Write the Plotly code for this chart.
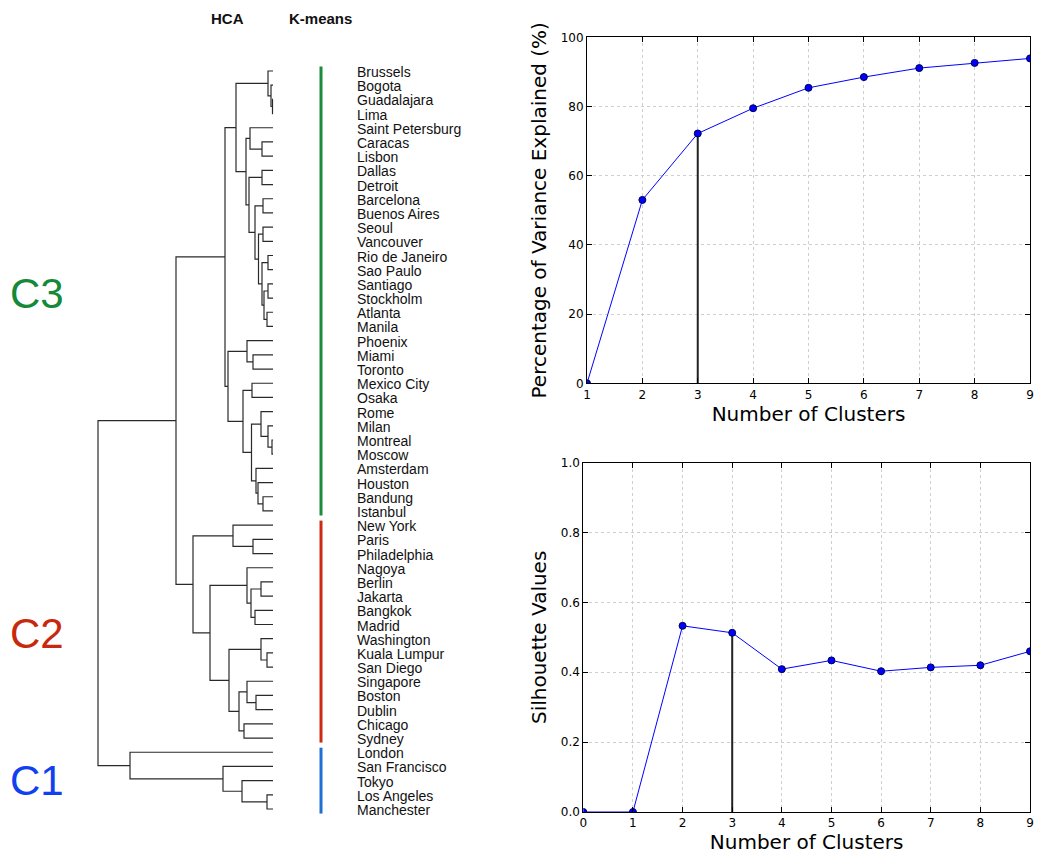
import plotly.graph_objects as go

# ---------------- data ----------------
cities = [
    "Brussels", "Bogota", "Guadalajara", "Lima", "Saint Petersburg", "Caracas",
    "Lisbon", "Dallas", "Detroit", "Barcelona", "Buenos Aires", "Seoul",
    "Vancouver", "Rio de Janeiro", "Sao Paulo", "Santiago", "Stockholm",
    "Atlanta", "Manila", "Phoenix", "Miami", "Toronto", "Mexico City", "Osaka",
    "Rome", "Milan", "Montreal", "Moscow", "Amsterdam", "Houston", "Bandung",
    "Istanbul", "New York", "Paris", "Philadelphia", "Nagoya", "Berlin",
    "Jakarta", "Bangkok", "Madrid", "Washington", "Kuala Lumpur", "San Diego",
    "Singapore", "Boston", "Dublin", "Chicago", "Sydney", "London",
    "San Francisco", "Tokyo", "Los Angeles", "Manchester",
]

# K-means cluster of each city (same order as cities)
kmeans_cluster = [
    "C3", "C3", "C3", "C3", "C3", "C3", "C3", "C3", "C3", "C3", "C3", "C3",
    "C3", "C3", "C3", "C3", "C3", "C3", "C3", "C3", "C3", "C3", "C3", "C3",
    "C3", "C3", "C3", "C3", "C3", "C3", "C3", "C3",
    "C2", "C2", "C2", "C2", "C2", "C2", "C2", "C2", "C2", "C2", "C2", "C2",
    "C2", "C2", "C2", "C2",
    "C1", "C1", "C1", "C1", "C1",
]
cluster_names = ["C3", "C2", "C1"]

# HCA merges: (node id, left child, right child, linkage distance)
merges = [
    ("a1", "Guadalajara", "Lima", 0.5),
    ("a2", "Bogota", "a1", 2),
    ("a3", "Brussels", "a2", 5),
    ("a4", "Caracas", "Lisbon", 11),
    ("a5", "Saint Petersburg", "a4", 23),
    ("a6", "Dallas", "Detroit", 11),
    ("a7", "Barcelona", "Buenos Aires", 10),
    ("a8", "Seoul", "Vancouver", 10),
    ("a9", "Rio de Janeiro", "Sao Paulo", 5),
    ("a10", "Santiago", "Stockholm", 5),
    ("a11", "Atlanta", "Manila", 6),
    ("a12", "a10", "a11", 9),
    ("a13", "a9", "a12", 11),
    ("a14", "a8", "a13", 14.5),
    ("a15", "a7", "a14", 18),
    ("a16", "a6", "a15", 24),
    ("a17", "a5", "a16", 27),
    ("a18", "a3", "a17", 37),
    ("b1", "Miami", "Toronto", 20),
    ("b2", "Phoenix", "b1", 26),
    ("b3", "Mexico City", "Osaka", 21),
    ("b4", "Montreal", "Moscow", 1),
    ("b5", "Milan", "b4", 5),
    ("b6", "Rome", "b5", 12),
    ("b7", "Bandung", "Istanbul", 10),
    ("b8", "Houston", "b7", 15),
    ("b9", "Amsterdam", "b8", 17),
    ("b10", "b6", "b9", 21.5),
    ("b11", "b3", "b10", 30),
    ("b12", "b2", "b11", 45),
    ("c3", "a18", "b12", 48),
    ("d1", "Paris", "Philadelphia", 20),
    ("d2", "New York", "d1", 40),
    ("d3", "Berlin", "Jakarta", 12),
    ("d4", "Bangkok", "Madrid", 18),
    ("d5", "d3", "d4", 22),
    ("d6", "Nagoya", "d5", 26),
    ("d7", "Kuala Lumpur", "San Diego", 6),
    ("d8", "Washington", "d7", 12),
    ("d9", "Boston", "Dublin", 17),
    ("d10", "Singapore", "d9", 26),
    ("d11", "Chicago", "Sydney", 29),
    ("d12", "d10", "d11", 34),
    ("d13", "d8", "d12", 44),
    ("d14", "d6", "d13", 63),
    ("c2", "d2", "d14", 80),
    ("c23", "c3", "c2", 97),
    ("e1", "Los Angeles", "Manchester", 6),
    ("e2", "Tokyo", "e1", 31),
    ("e3", "San Francisco", "e2", 50),
    ("c1", "London", "e3", 143),
    ("root", "c23", "c1", 175),
]

# elbow / silhouette curves
var_k = [1, 2, 3, 4, 5, 6, 7, 8, 9]
var_explained = [0.0, 53.0, 72.2, 79.5, 85.4, 88.5, 91.1, 92.6, 93.9]
sil_k = [0, 1, 2, 3, 4, 5, 6, 7, 8, 9]
sil_values = [0.0, 0.0, 0.533, 0.513, 0.409, 0.434, 0.403, 0.414, 0.420, 0.460]
chosen_k = 3

# ---------------- styling ----------------
W, H = 1038, 856
cluster_bar_color = {"C3": "#1a8c3c", "C2": "#cc2a14", "C1": "#1f6fd4"}
cluster_text_color = {"C3": "#14893a", "C2": "#c8280e", "C1": "#1040f0"}
cluster_text_y = {"C3": 293, "C2": 633, "C1": 780}


def fx(p):
    return p / W


def fy(p):
    return 1 - p / H


# ---------------- dendrogram geometry ----------------
pos = {c: (0.0, float(i)) for i, c in enumerate(cities)}  # name -> (height, y)
dx, dy = [], []
for nid, left, right, h in merges:
    hl, yl = pos[left]
    hr, yr = pos[right]
    dx += [hl, h, h, hr, None]
    dy += [yl, yl, yr, yr, None]
    pos[nid] = (h, (yl + yr) / 2)

fig = go.Figure()
fig.add_trace(go.Scatter(x=dx, y=dy, mode="lines",
                         line=dict(color="#2a2a2a", width=1.2),
                         hoverinfo="skip", showlegend=False,
                         xaxis="x", yaxis="y"))

# ---------------- elbow plot ----------------
fig.add_trace(go.Scatter(x=[chosen_k, chosen_k],
                         y=[0, var_explained[var_k.index(chosen_k)]],
                         mode="lines", line=dict(color="#222222", width=2),
                         showlegend=False, xaxis="x2", yaxis="y2"))
fig.add_trace(go.Scatter(x=var_k, y=var_explained, mode="lines+markers",
                         line=dict(color="#0000ff", width=1),
                         marker=dict(color="#0000ff", size=7,
                                     line=dict(color="#000050", width=1)),
                         showlegend=False, xaxis="x2", yaxis="y2"))

# ---------------- silhouette plot ----------------
fig.add_trace(go.Scatter(x=[chosen_k, chosen_k],
                         y=[0, sil_values[sil_k.index(chosen_k)]],
                         mode="lines", line=dict(color="#222222", width=2),
                         showlegend=False, xaxis="x3", yaxis="y3"))
fig.add_trace(go.Scatter(x=sil_k, y=sil_values, mode="lines+markers",
                         line=dict(color="#0000ff", width=1),
                         marker=dict(color="#0000ff", size=7,
                                     line=dict(color="#000050", width=1)),
                         showlegend=False, xaxis="x3", yaxis="y3"))

# ---------------- annotations ----------------
annotations = []
for i, c in enumerate(cities):
    annotations.append(dict(x=fx(355), xref="paper", y=i, yref="y",
                            text=c, showarrow=False, xanchor="left",
                            yanchor="middle", yshift=-1,
                            font=dict(family="Liberation Sans, Arial", size=14,
                                      color="#111111")))
annotations.append(dict(x=fx(227), y=fy(18.5), xref="paper", yref="paper",
                        text="<b>HCA</b>", showarrow=False,
                        xanchor="center", yanchor="middle",
                        font=dict(family="Liberation Sans, Arial", size=15,
                                  color="#111111")))
annotations.append(dict(x=fx(320.5), y=fy(18.5), xref="paper", yref="paper",
                        text="<b>K-means</b>", showarrow=False,
                        xanchor="center", yanchor="middle",
                        font=dict(family="Liberation Sans, Arial", size=15,
                                  color="#111111")))
for name in cluster_names:
    annotations.append(dict(x=fx(37), y=fy(cluster_text_y[name]),
                            xref="paper", yref="paper", text=name,
                            showarrow=False, xanchor="center",
                            yanchor="middle",
                            font=dict(family="Liberation Sans, Arial", size=42,
                                      color=cluster_text_color[name])))

# K-means cluster bars
shapes = []
for name in cluster_names:
    idx = [i for i, k in enumerate(kmeans_cluster) if k == name]
    shapes.append(dict(type="line", xref="paper", yref="y",
                       x0=fx(321), x1=fx(321),
                       y0=min(idx) - 0.32, y1=max(idx) + 0.32,
                       line=dict(color=cluster_bar_color[name], width=3)))

axis_common = dict(showline=True, linecolor="black", linewidth=1, mirror="allticks",
                   ticks="inside", ticklen=5, tickcolor="black",
                   showgrid=True, gridcolor="#cfcfcf", griddash="dot",
                   gridwidth=1, zeroline=False, automargin=False,
                   ticklabeloverflow="allow",
                   tickfont=dict(family="DejaVu Sans", size=12, color="black"))

fig.update_layout(
    width=W, height=H,
    margin=dict(l=0, r=0, t=0, b=0),
    paper_bgcolor="white", plot_bgcolor="white",
    font=dict(family="DejaVu Sans", color="black"),
    xaxis=dict(domain=[fx(93), fx(276)], range=[180, -3], visible=False,
               automargin=False),
    yaxis=dict(domain=[fy(816.1), fy(63.9)], range=[52.5, -0.5],
               visible=False, automargin=False),
    xaxis2=dict(domain=[fx(587), fx(1030)], range=[1, 9], dtick=1,
                anchor="y2",
                title=dict(text="Number of Clusters", standoff=4,
                           font=dict(family="DejaVu Sans", size=20)),
                **axis_common),
    yaxis2=dict(domain=[fy(383.3), fy(37.3)], range=[0, 100], dtick=20,
                anchor="x2",
                title=dict(text="Percentage of Variance Explained (%)",
                           standoff=8,
                           font=dict(family="DejaVu Sans", size=20)),
                **axis_common),
    xaxis3=dict(domain=[fx(583.3), fx(1030)], range=[0, 9], dtick=1,
                anchor="y3",
                title=dict(text="Number of Clusters", standoff=3,
                           font=dict(family="DejaVu Sans", size=20)),
                **axis_common),
    yaxis3=dict(domain=[fy(812), fy(462.7)], range=[0, 1], dtick=0.2,
                tickformat=".1f", anchor="x3",
                title=dict(text="Silhouette Values", standoff=8,
                           font=dict(family="DejaVu Sans", size=20)),
                **axis_common),
    annotations=annotations,
    shapes=shapes,
)

fig.write_html(
    "out.html",
    config={"displayModeBar": False},
    post_script="document.body.style.margin='0';"
                "document.body.style.overflow='hidden';"
                "document.documentElement.style.overflow='hidden';",
)
